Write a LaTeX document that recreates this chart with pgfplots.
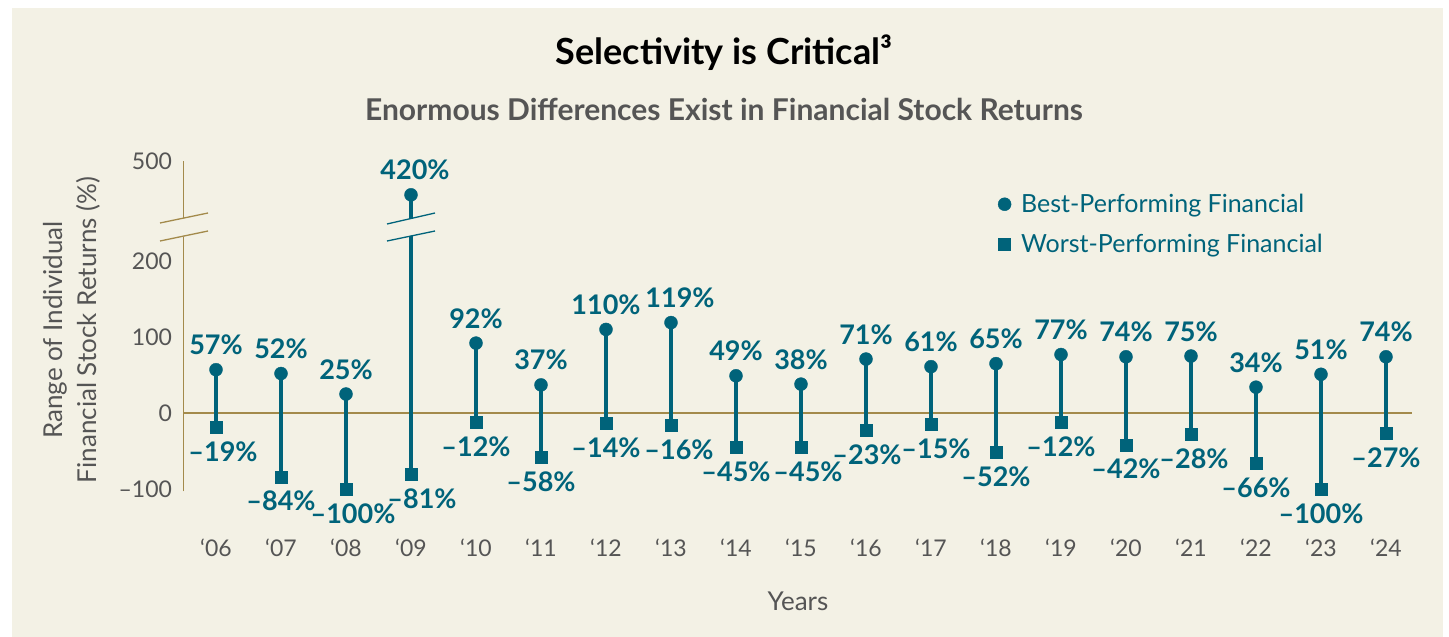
\documentclass[border=0pt]{standalone}
\usepackage{pgfplots}
\pgfplotsset{compat=1.18}
\usepackage{pgfplotstable}
\usepackage{fontspec}
\setmainfont{Lato}
\definecolor{bg}{RGB}{243,241,229}
\definecolor{tealc}{RGB}{0,99,122}
\definecolor{gold}{RGB}{163,138,75}
\definecolor{txtgray}{RGB}{85,85,85}

% bdx, wdx: horizontal label offsets (pt) as in the reference
\pgfplotstableread{
x best worst bdx wdx
0 57 -19 0 7
1 52 -84 0 0
2 25 -100 0 7
3 420 -81 4 11
4 92 -12 0 0
5 37 -58 0 0
6 110 -14 0 0
7 119 -16 9 8
8 49 -45 0 0
9 38 -45 0 7
10 71 -23 0 1
11 61 -15 0 5
12 65 -52 0 0
13 77 -12 0 0
14 74 -42 0 0
15 75 -28 0 3
16 34 -66 0 0
17 51 -100 0 0
18 74 -27 0 0
}\data

\begin{document}
\begin{tikzpicture}
\fill[white] (0pt,0pt) rectangle (1449pt,-637pt);
\fill[bg] (12pt,-8pt) rectangle (1443pt,-637pt);
\node[font=\fontsize{36}{42}\selectfont\bfseries, text=black] at (724pt,-53pt) {Selectivity is Critical³};
\node[font=\fontsize{30}{34}\selectfont\bfseries, text=txtgray] at (724pt,-109pt) {Enormous Differences Exist in Financial Stock Returns};
\node[rotate=90, font=\fontsize{26}{30}\selectfont, text=txtgray] at (55pt,-330pt) {Range of Individual};
\node[rotate=90, font=\fontsize{26}{30}\selectfont, text=txtgray] at (88pt,-330pt) {Financial Stock Returns (\%)};
\node[font=\fontsize{26}{30}\selectfont, text=txtgray] at (798pt,-601pt) {Years};

\begin{axis}[
  at={(183.5pt,-491.3pt)}, anchor=south west,
  scale only axis, width=1228.5pt, height=330.3pt,
  xmin=-0.5, xmax=18.4, ymin=-103, ymax=500,
  y coord trafo/.code={\pgfmathparse{#1>420 ? 287.2+(#1-420)*0.555 : (#1>200 ? 200+(#1-200)*0.396 : #1)}},
  axis lines*=left,
  x axis line style={draw=none,-},
  y axis line style={gold, line width=1.3pt, -},
  major tick length=0pt,
  xtick={0,...,18},
  xticklabels={‘06,‘07,‘08,‘09,‘10,‘11,‘12,‘13,‘14,‘15,‘16,‘17,‘18,‘19,‘20,‘21,‘22,‘23,‘24},
  ytick={-100,0,100,200,500},
  yticklabels={–100,0,100,200,500},
  tick label style={font=\fontsize{23}{28}\selectfont, text=txtgray},
  xticklabel style={yshift=-44pt},
  yticklabel style={xshift=-8pt},
  /pgf/number format/assume math mode=true,
  clip=false,
  legend style={at={(0.6605,0.912)}, anchor=north west, draw=none, fill=none,
    font=\fontsize{25}{29}\selectfont, text=tealc, row sep=16pt, column sep=8pt},
  legend cell align=left,
]
\draw[gold, line width=2pt] (axis cs:-0.5,0) -- (axis cs:18.4,0);
\pgfplotsinvokeforeach{0,...,18}{
  \pgfplotstablegetelem{#1}{best}\of\data
  \let\bestv\pgfplotsretval
  \pgfplotstablegetelem{#1}{worst}\of\data
  \let\worstv\pgfplotsretval
  \edef\tmp{\noexpand\addplot[tealc, line width=4pt, mark=none, forget plot] coordinates {(#1,\worstv) (#1,\bestv)};}
  \tmp
}
\addplot[only marks, mark=*, mark size=6.5pt, mark options={fill=tealc, draw=tealc}, tealc,
  point meta=\thisrow{best},
  visualization depends on={\thisrow{bdx} \as \bdx},
  nodes near coords={\pgfmathprintnumber{\pgfplotspointmeta}\%},
  nodes near coords style={font=\fontsize{27}{32}\selectfont\bfseries, text=tealc, anchor=base, yshift=15pt, xshift=\bdx pt, inner sep=0pt}]
  table[x=x,y=best]{\data};
\addlegendentry{Best-Performing Financial}
\addplot[only marks, mark=square*, mark size=6pt, mark options={fill=tealc, draw=tealc}, tealc,
  point meta={-\thisrow{worst}},
  visualization depends on={\thisrow{wdx} \as \wdx},
  nodes near coords={–\pgfmathprintnumber{\pgfplotspointmeta}\%},
  nodes near coords style={font=\fontsize{27}{32}\selectfont\bfseries, text=tealc, anchor=base, yshift=-34pt, xshift=\wdx pt, inner sep=0pt}]
  table[x=x,y=worst]{\data};
\addlegendentry{Worst-Performing Financial}
\end{axis}
% axis break
\fill[bg] (176pt,-218pt) rectangle (191pt,-237pt);
\draw[gold, line width=1.3pt] (160pt,-223pt) -- (208pt,-213pt);
\draw[gold, line width=1.3pt] (160pt,-241pt) -- (208pt,-231pt);
% 2009 stem break
\fill[bg] (403pt,-219pt) rectangle (419pt,-236pt);
\draw[tealc, line width=1.3pt] (387pt,-224pt) -- (435pt,-213pt);
\draw[tealc, line width=1.3pt] (387pt,-241pt) -- (435pt,-231pt);
\end{tikzpicture}
\end{document}
